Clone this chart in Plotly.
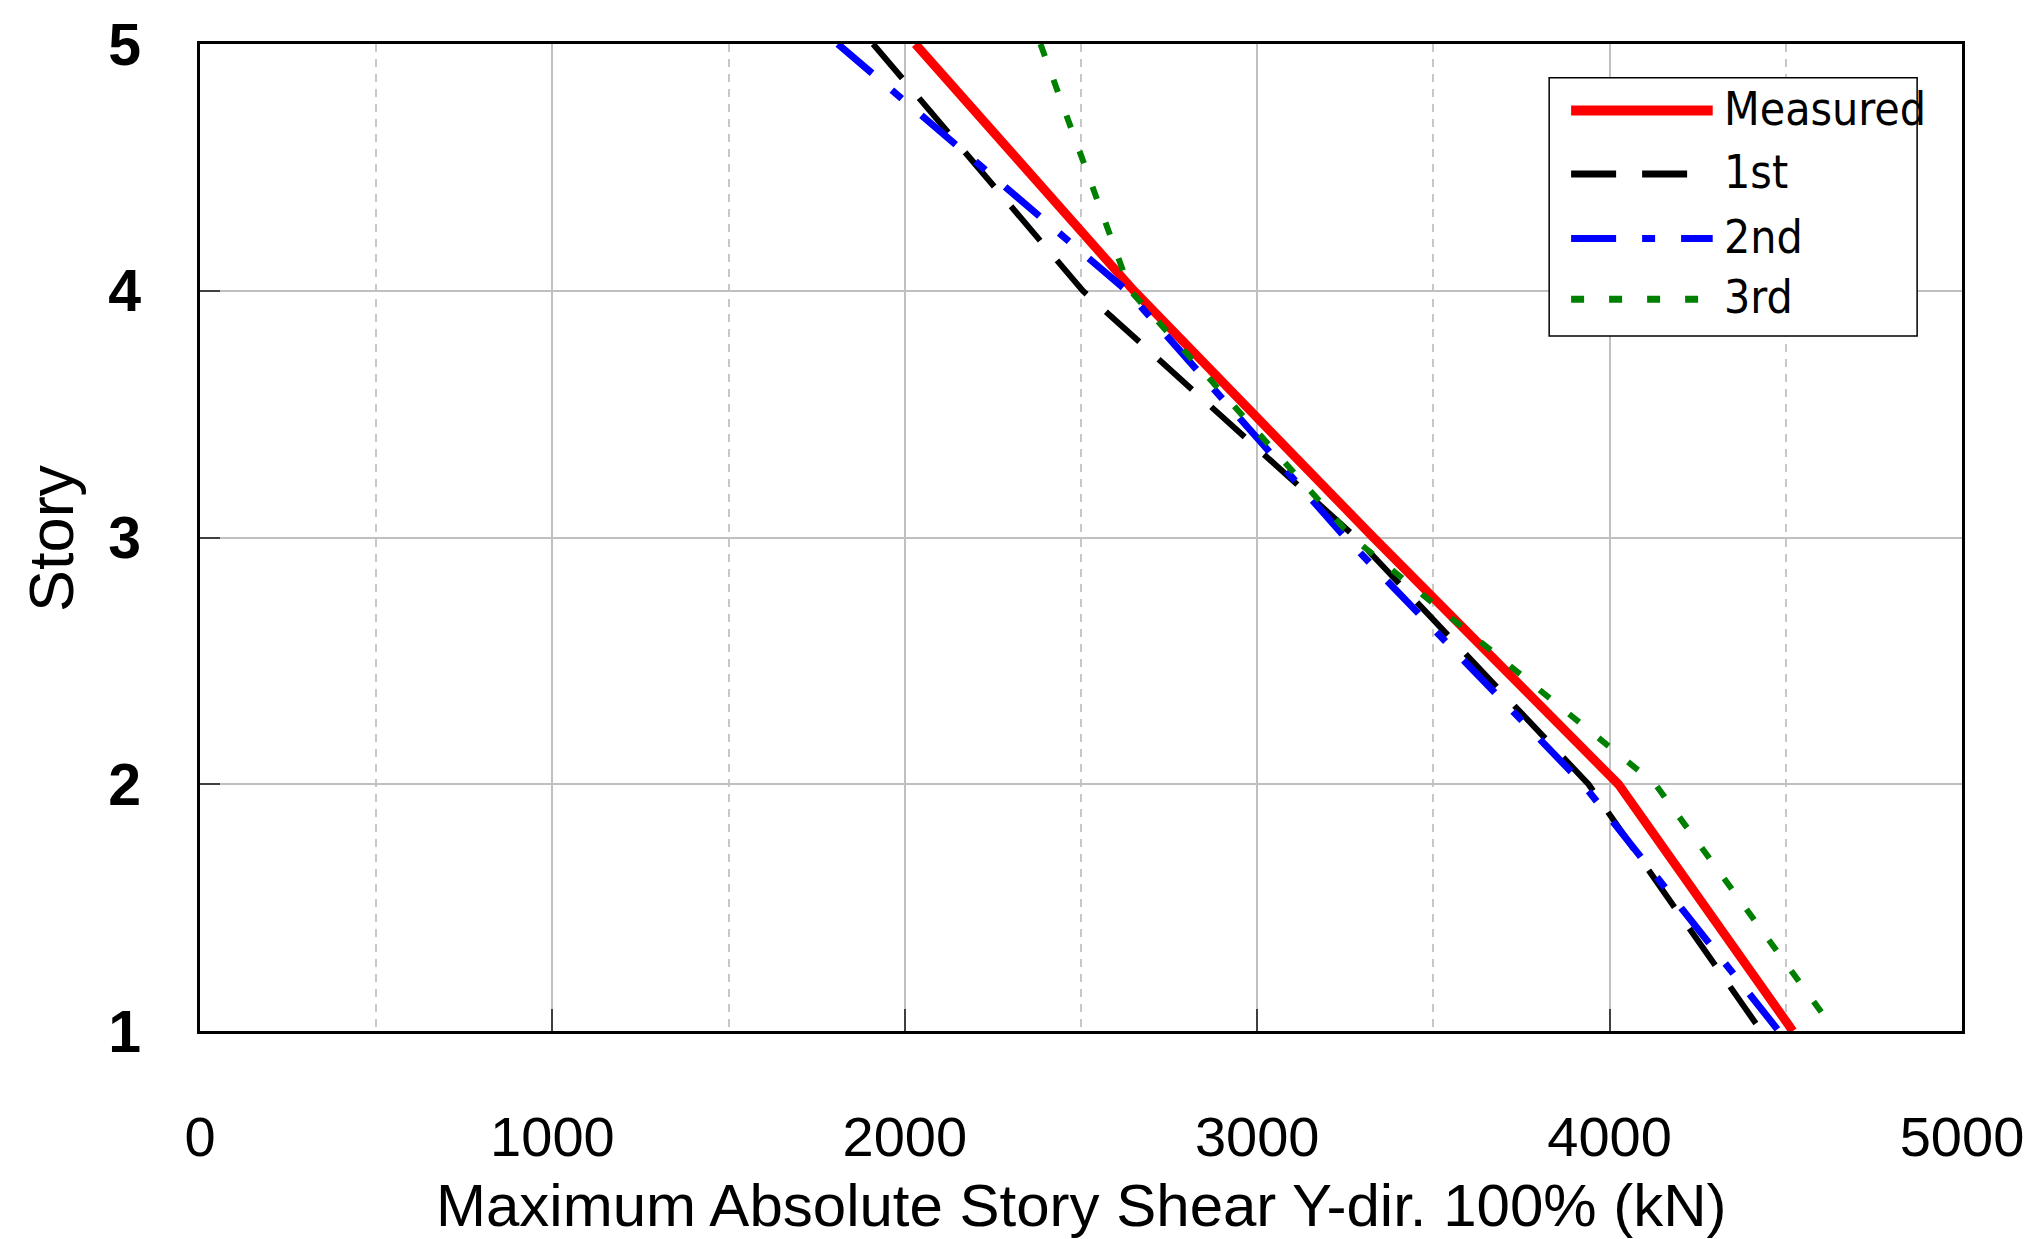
import plotly.graph_objects as go

# ---- data ----
story = [1, 2, 3, 4, 5]
measured = [4520, 4025, 3330, 2650, 2030]
first = [4430, 3940, 3280, 2505, 1910]
second = [4480, 3925, 3250, 2630, 1810]
third = [4640, 4130, 3270, 2640, 2385]
series_names = ["Measured", "1st", "2nd", "3rd"]
x_ticks = [0, 1000, 2000, 3000, 4000, 5000]
y_ticks = [1, 2, 3, 4, 5]

W, H = 2036, 1239
L, R, T, B = 200, 1967, 37, 1031  # plot area in pixels

def px(x):
    return (x - L) / (R - L)

def py(y):
    return (B - y) / (B - T)

FONT = "Liberation Sans, Arial, sans-serif"
NARROW = "Liberation Sans Narrow, Arial Narrow, DejaVu Sans Condensed, sans-serif"

styles = [
    dict(color="#ff0000", width=9, dash="solid"),
    dict(color="#000000", width=6, dash="45px,26px"),
    dict(color="#0000ff", width=7, dash="45px,26px,13px,26px"),
    dict(color="#008000", width=6, dash="13px,25px"),
]
data = [measured, first, second, third]

fig = go.Figure()
for name, vals, st in zip(series_names, data, styles):
    # drawn from the top story downwards so dash patterns start at the top edge
    fig.add_trace(go.Scatter(x=vals[::-1], y=story[::-1], mode="lines", name=name,
                             line=st, showlegend=False))

fig.update_layout(
    width=W, height=H,
    margin=dict(l=L, r=W - R, t=T, b=H - B, pad=0),
    plot_bgcolor="white", paper_bgcolor="white",
    font=dict(family=FONT, color="black"),
)
fig.update_xaxes(
    range=[0, 5000], tickvals=x_ticks, ticktext=[str(v) for v in x_ticks],
    tickfont=dict(size=56, family=FONT), ticklabelstandoff=55,
    showline=True, linecolor="black", linewidth=3, mirror=True,
    showgrid=True, gridcolor="#c0c0c0", gridwidth=1.5,
    ticks="inside", ticklen=22, tickcolor="#404040", tickwidth=1.5,
    minor=dict(dtick=500, showgrid=True, gridcolor="#c8c8c8", gridwidth=1.5,
               griddash="8px,7px"),
    zeroline=False,
)
fig.update_yaxes(
    range=[1, 5], tickvals=y_ticks, ticktext=[str(v) for v in y_ticks],
    tickfont=dict(size=59, family=FONT, weight="bold"), ticklabelstandoff=44,
    showline=True, linecolor="black", linewidth=3, mirror=True,
    showgrid=True, gridcolor="#c0c0c0", gridwidth=1.5,
    ticks="inside", ticklen=20, tickcolor="#404040", tickwidth=1.5,
    zeroline=False,
)

# axis titles
fig.add_annotation(text="Maximum Absolute Story Shear Y-dir. 100% (kN)",
                   xref="paper", yref="paper", x=0.5, y=py(1207),
                   xanchor="center", yanchor="middle", showarrow=False,
                   font=dict(size=60, family=FONT))
fig.add_annotation(text="Story", xref="paper", yref="paper",
                   x=px(50), y=0.5, textangle=-90,
                   xanchor="center", yanchor="middle", showarrow=False,
                   font=dict(size=63, family=FONT))

# custom legend
fig.add_shape(type="rect", xref="paper", yref="paper",
              x0=px(1553), x1=px(1922), y0=py(331), y1=py(71),
              line=dict(color="black", width=1.5), fillcolor="white", layer="above")
legend_y = [104, 168, 233, 294]
leg_widths = [10, 7, 7, 7]
for name, st, ly, lw in zip(series_names, styles, legend_y, leg_widths):
    fig.add_shape(type="line", xref="paper", yref="paper",
                  x0=px(1575), x1=px(1717), y0=py(ly), y1=py(ly),
                  line=dict(color=st["color"], width=lw, dash=st["dash"]),
                  layer="above")
    fig.add_annotation(text=name, xref="paper", yref="paper",
                       x=px(1726), y=py(ly - 2), xanchor="left", yanchor="middle",
                       showarrow=False, font=dict(size=46, family=NARROW))

fig.write_html("out.html")
